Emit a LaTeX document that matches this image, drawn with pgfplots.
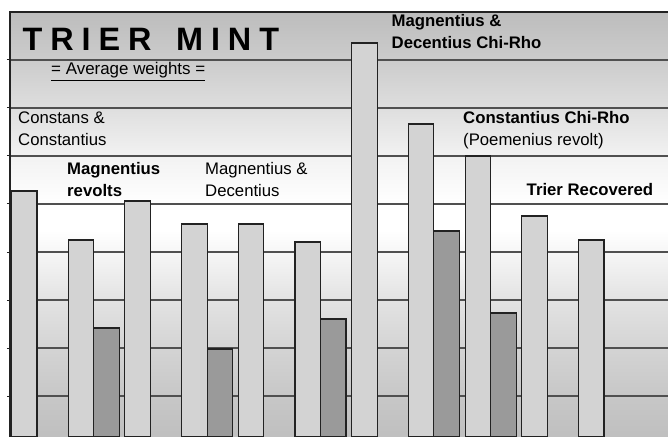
\documentclass[border=0pt]{standalone}
\usepackage{pgfplots}
\pgfplotsset{compat=1.18}
\usepackage{fontspec}
\setmainfont{Liberation Sans}
\definecolor{lightbar}{HTML}{D3D3D3}
\definecolor{darkbar}{HTML}{9A9A9A}
\definecolor{gridc}{HTML}{505050}
\definecolor{framec}{HTML}{222222}
\pgfdeclareverticalshading{bgshade}{100bp}{
  gray(0bp)=(0.75); gray(25bp)=(0.75); gray(29.8bp)=(0.78); gray(35.35bp)=(0.83);
  gray(41.25bp)=(0.89); gray(46.65bp)=(0.965); gray(49.35bp)=(1.0); gray(52.4bp)=(1.0);
  gray(58bp)=(0.95); gray(63.8bp)=(0.87); gray(69.3bp)=(0.80); gray(75bp)=(0.74); gray(100bp)=(0.74)}
\newcommand{\lab}{\fontsize{16.8}{22}\selectfont}
\begin{document}
\begin{tikzpicture}
\path[use as bounding box] (-10bp,0) rectangle (658bp,437bp);
\begin{axis}[
  name=ax, at={(0,0)}, anchor=south west,
  scale only axis, width=658bp, height=425bp,
  xmin=0.5238, xmax=12.129, ymin=0, ymax=8.854,
  axis background/.style={shading=bgshade},
  axis line style={draw=none},
  xtick=\empty,
  ytick={0.854,1.854,2.854,3.854,4.854,5.854,6.854,7.854},
  yticklabels={},
  ytick pos=left, tick align=outside, major tick length=3bp,
  tick style={framec, line width=1bp},
  ymajorgrids, grid style={gridc, line width=1.7bp},
  ybar, bar width=0.45,
]
\addplot[ybar, bar shift=-0.225, fill=lightbar, draw=framec, line width=1.1bp]
  coordinates {(1,5.125) (2,4.104) (3,4.917) (4,4.4375) (5,4.4375) (6,4.0625)
               (7,8.208) (8,6.521) (9,5.854) (10,4.604) (11,4.104)};
\addplot[ybar, bar shift=0.225, fill=darkbar, draw=framec, line width=1.1bp]
  coordinates {(2,2.271) (4,1.833) (6,2.458) (8,4.292) (9,2.583)};
\end{axis}
\draw[framec, line width=1.6bp] (ax.south west) -- (ax.north west) -- (ax.north east);
\node[anchor=base west, inner sep=0, font=\fontsize{32.5}{32}\selectfont\bfseries]
  at (12.5bp,386.5bp) {T\kern7.9bp R\kern7.9bp I\kern7.9bp E\kern7.9bp R\kern7.9bp\ \kern7.9bp M\kern7.9bp I\kern7.9bp N\kern7.9bp T};
\node[anchor=base west, inner sep=0, font=\fontsize{17}{20}\selectfont]
  at (41bp,362bp) {\underline{= Average weights =}};
\node[anchor=base west, inner sep=0, font=\lab] at (8bp,313bp) {Constans \&};
\node[anchor=base west, inner sep=0, font=\lab] at (8bp,291bp) {Constantius};
\node[anchor=base west, inner sep=0, font=\lab\bfseries] at (57bp,262bp) {Magnentius};
\node[anchor=base west, inner sep=0, font=\lab\bfseries] at (57bp,240bp) {revolts};
\node[anchor=base west, inner sep=0, font=\lab] at (195bp,262bp) {Magnentius \&};
\node[anchor=base west, inner sep=0, font=\lab] at (195bp,240bp) {Decentius};
\node[anchor=base west, inner sep=0, font=\lab\bfseries] at (381.5bp,410.5bp) {Magnentius \&};
\node[anchor=base west, inner sep=0, font=\lab\bfseries] at (381.5bp,388.5bp) {Decentius Chi-Rho};
\node[anchor=base west, inner sep=0, font=\lab\bfseries] at (453bp,313bp) {Constantius Chi-Rho};
\node[anchor=base west, inner sep=0, font=\lab] at (453bp,291bp) {(Poemenius revolt)};
\node[anchor=base west, inner sep=0, font=\lab\bfseries] at (516.5bp,241bp) {Trier Recovered};
\end{tikzpicture}
\end{document}
